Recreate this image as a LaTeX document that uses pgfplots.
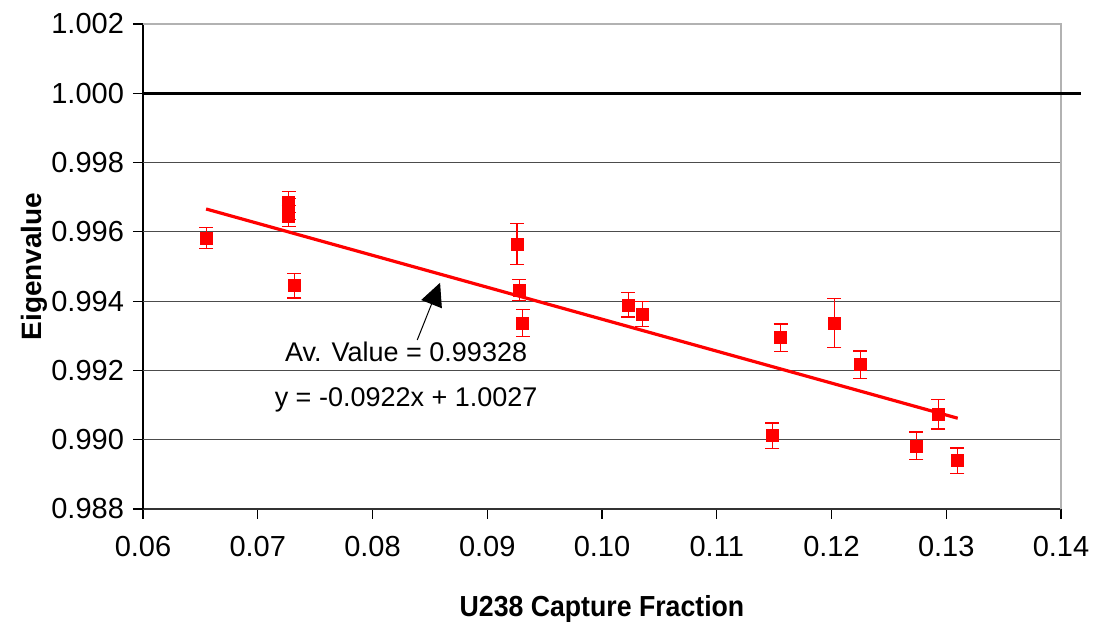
\documentclass[border=0pt]{standalone}
\usepackage{pgfplots}
\pgfplotsset{compat=1.18}
\usepackage{fontspec}
\setmainfont{Liberation Sans}
\usetikzlibrary{arrows.meta}
\begin{document}
\begin{tikzpicture}
\begin{axis}[
  scale only axis,
  width=459pt, height=242.5pt,
  xmin=0.06, xmax=0.14, ymin=0.988, ymax=1.002,
  xtick={0.06,0.07,...,0.141},
  ytick={0.988,0.990,0.992,0.994,0.996,0.998,1.000,1.002},
  axis x line*=bottom, axis y line*=left,
  x axis line style={black!80, line width=0.6pt},
  y axis line style={black, line width=0.6pt},
  tick align=outside,
  major tick length=5pt,
  tick style={black, line width=0.6pt},
  xticklabel={\pgfmathprintnumber[fixed,fixed zerofill,precision=2,assume math mode=true]{\tick}},
  yticklabel={\pgfmathprintnumber[fixed,fixed zerofill,precision=3,assume math mode=true]{\tick}},
  ticklabel style={font=\fontsize{14.5}{16}\selectfont},
  xticklabel style={yshift=-5pt},
  yticklabel style={xshift=-1pt},
  extra y ticks={0.990,0.992,0.994,0.996,0.998,1.000},
  extra y tick labels={},
  extra y tick style={grid=major, major tick length=0pt},
  major grid style={black!70, line width=0.6pt},
  xlabel={\scalebox{0.92}[1]{U238 Capture Fraction}},
  ylabel={Eigenvalue},
  xlabel style={font=\bfseries\fontsize{14.5}{16}\selectfont, at={(axis description cs:0.5,-0.2062)}, anchor=center},
  ylabel style={font=\bfseries\fontsize{14}{16}\selectfont, at={(axis description cs:-0.1187,0.5)}, anchor=center},
  clip=false,
]
\coordinate (SW) at (rel axis cs:0,0);
\draw[black!30, line width=0.6pt] (rel axis cs:0,1) -- (rel axis cs:1,1) -- (rel axis cs:1,0);
\addplot[black, line width=1.5pt] coordinates {(0.06,1.000) (0.1417,1.000)};
\addplot[only marks, mark=square*, mark size=3pt, color=red,
  error bars/.cd, y dir=both, y explicit,
  error bar style={red, line width=0.6pt},
  error mark options={rotate=90, mark size=3.5pt, red, line width=0.6pt}]
  table[x=x, y=y, y error=ey] {
x y ey
0.0655 0.99582 0.0003
0.0727 0.99686 0.0003
0.0727 0.99666 0.0003
0.0727 0.99646 0.0003
0.0732 0.99444 0.00035
0.0926 0.99565 0.0006
0.0928 0.99432 0.0003
0.0931 0.99337 0.0004
0.1023 0.99389 0.00035
0.1035 0.99363 0.00036
0.11484 0.99011 0.00037
0.11556 0.99294 0.0004
0.12025 0.99337 0.0007
0.1225 0.99216 0.0004
0.1274 0.98982 0.0004
0.1293 0.99074 0.00043
0.13097 0.98939 0.00037
};
\addplot[red, line width=1.6pt] coordinates {(0.0655,0.99666) (0.1310,0.99062)};
\draw[black, line width=0.5pt, -{Triangle[length=11.5pt,width=11pt]}] (axis cs:0.0839,0.99288) -- (axis cs:0.08589,0.99453);
\node[font=\fontsize{13.5}{16}\selectfont, anchor=center] at (axis cs:0.08293,0.99253) {Av. Value = 0.99328};
\node[font=\fontsize{13.5}{16}\selectfont, anchor=center] at (axis cs:0.08293,0.99115) {y = -0.0922x + 1.0027};
\end{axis}
\pgfresetboundingbox
\path (SW) ++(-71.5pt,-58pt) rectangle ++(550pt,312.5pt);
\end{tikzpicture}
\end{document}
